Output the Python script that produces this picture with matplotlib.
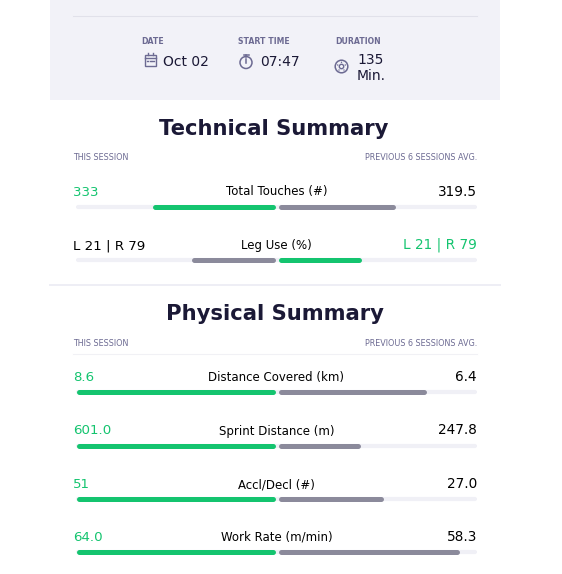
import matplotlib
matplotlib.use("Agg")
import matplotlib.pyplot as plt
from matplotlib.patches import Rectangle, Circle

# session info
info_labels = ["DATE", "START TIME", "DURATION"]
info_values = [["Oct 02"], ["07:47"], ["135", "Min."]]

# technical summary
tech_metrics = ["Total Touches (#)", "Leg Use (%)"]
tech_left_text = ["333", "L 21 | R 79"]
tech_right_text = ["319.5", "L 21 | R 79"]
tech_left_vals = [333, 21]
tech_right_vals = [319.5, 21]
tech_scale = [541, 50]
tech_left_green = [True, False]

# physical summary
phys_metrics = ["Distance Covered (km)", "Sprint Distance (m)", "Accl/Decl (#)", "Work Rate (m/min)"]
phys_session = [8.6, 601.0, 51, 64.0]
phys_avg = [6.4, 247.8, 27.0, 58.3]
phys_left_text = ["8.6", "601.0", "51", "64.0"]
phys_right_text = ["6.4", "247.8", "27.0", "58.3"]

GREEN = "#14c46f"
GREY = "#8b8a9b"
TRACK = "#f0f0f6"
DARK = "#1b1936"
MUTED = "#6c6a92"
HEADER_BG = "#f2f2f8"

W, H = 562, 574
X_LEFT, X_RIGHT, X_MID = 76, 477, 276.5
HALF = 199


def draw_bar(ax, y, left_frac, right_frac, left_col, right_col):
    lw = 3.6
    r = 2.5
    ax.plot([X_LEFT + 2, X_RIGHT - 2], [y, y], color=TRACK, lw=3.0,
            solid_capstyle="round", zorder=1)
    ax.plot([X_MID - 1.5 - left_frac * HALF + r, X_MID - 1.5 - r], [y, y],
            color=left_col, lw=lw, solid_capstyle="round", zorder=2)
    ax.plot([X_MID + 1.5 + r, X_MID + 1.5 + right_frac * HALF - r], [y, y],
            color=right_col, lw=lw, solid_capstyle="round", zorder=2)


def draw_row(ax, y, label, ltxt, rtxt, lfrac, rfrac, left_green):
    base = y - 11
    lcol = GREEN if left_green else "black"
    rcol = "black" if left_green else GREEN
    ax.text(73, base, ltxt, fontsize=9.6, color=lcol, ha="left", va="baseline")
    ax.text(477, base, rtxt, fontsize=9.8, color=rcol, ha="right", va="baseline")
    ax.text(X_MID, base, label, fontsize=8.5, color="black", ha="center", va="baseline")
    draw_bar(ax, y, lfrac, rfrac,
             GREEN if left_green else GREY, GREY if left_green else GREEN)


def draw_icons(ax):
    # calendar
    ax.add_patch(Rectangle((144.5, 54.5), 11.5, 11, fill=False, ec=MUTED, lw=1.0))
    ax.plot([144.5, 156], [57.5, 57.5], color=MUTED, lw=1.0)
    ax.plot([147.5, 147.5], [52.5, 55], color=MUTED, lw=1.0)
    ax.plot([153, 153], [52.5, 55], color=MUTED, lw=1.0)
    for dx in [147.5, 150.2, 153]:
        ax.plot([dx - 0.6, dx + 0.6], [60.5, 60.5], color=MUTED, lw=1.0)
    # stopwatch
    ax.add_patch(Circle((246, 62.5), 6, fill=False, ec=MUTED, lw=1.1))
    ax.plot([243.5, 248.5], [54.5, 54.5], color=MUTED, lw=1.1)
    ax.plot([246, 246], [54.5, 56.5], color=MUTED, lw=1.1)
    ax.plot([246, 246], [59, 63], color=MUTED, lw=1.1)
    # duration
    ax.add_patch(Circle((341.5, 66.5), 6.3, fill=False, ec=MUTED, lw=1.1))
    ax.add_patch(Circle((341.5, 66.5), 2.2, fill=False, ec=MUTED, lw=1.0))
    for dx, dy in [(0, -4.2), (3.8, -1.5), (2.5, 3.5), (-2.5, 3.5), (-3.8, -1.5)]:
        ax.add_patch(Circle((341.5 + dx, 66.5 + dy), 0.7, color=MUTED, lw=0))


def main():
    fig = plt.figure(figsize=(W / 100, H / 100), dpi=100)
    ax = fig.add_axes([0, 0, 1, 1])
    ax.set_xlim(0, W)
    ax.set_ylim(H, 0)
    ax.axis("off")

    # header panel
    ax.add_patch(Rectangle((50, 0), 450, 99.5, color=HEADER_BG, lw=0, zorder=0))
    ax.plot([73, 477], [16, 16], color="#e1e1ea", lw=0.8)

    info_x = [141, 238, 335]
    value_x = [163, 260, 357]
    for i, lab in enumerate(info_labels):
        ax.text(info_x[i], 44, lab, fontsize=5.6, fontweight="bold", color=MUTED,
                ha="left", va="baseline")
        lines = info_values[i]
        y0 = 66 if len(lines) == 1 else 64
        for j, line in enumerate(lines):
            ax.text(value_x[i], y0 + 15.5 * j, line, fontsize=10,
                    color=DARK, ha="left", va="baseline")
    draw_icons(ax)

    # technical summary
    ax.text(X_MID - 2.5, 135, "Technical Summary", fontsize=15.2, fontweight="bold",
            color=DARK, ha="center", va="baseline")
    ax.text(73, 159.5, "THIS SESSION", fontsize=5.8, color=MUTED, va="baseline")
    ax.text(477, 159.5, "PREVIOUS 6 SESSIONS AVG.", fontsize=5.8, color=MUTED,
            ha="right", va="baseline")
    tech_y = [206.5, 260]
    for i, m in enumerate(tech_metrics):
        draw_row(ax, tech_y[i], m, tech_left_text[i], tech_right_text[i],
                 tech_left_vals[i] / tech_scale[i], tech_right_vals[i] / tech_scale[i],
                 tech_left_green[i])

    ax.plot([50, 500], [285, 285], color="#eeeef5", lw=1.4)

    # physical summary
    ax.text(X_MID - 2, 320, "Physical Summary", fontsize=15.2, fontweight="bold",
            color=DARK, ha="center", va="baseline")
    ax.text(73, 345.5, "THIS SESSION", fontsize=5.8, color=MUTED, va="baseline")
    ax.text(477, 345.5, "PREVIOUS 6 SESSIONS AVG.", fontsize=5.8, color=MUTED,
            ha="right", va="baseline")
    ax.plot([73, 477], [353.5, 353.5], color="#f1f1f5", lw=0.8)
    phys_y = [392, 445.5, 499, 552]
    for i, m in enumerate(phys_metrics):
        top = max(phys_session[i], phys_avg[i])
        draw_row(ax, phys_y[i], m, phys_left_text[i], phys_right_text[i],
                 phys_session[i] / top, phys_avg[i] / top, True)

    fig.savefig("out.png", dpi=100, facecolor="white")


if __name__ == "__main__":
    main()
